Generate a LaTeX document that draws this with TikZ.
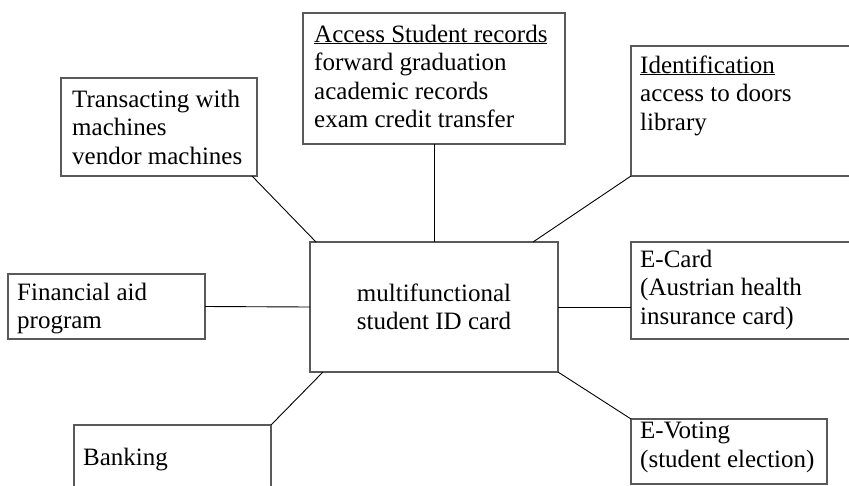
\documentclass[tikz,border=0pt]{standalone}
\usepackage{fontspec}
\setmainfont{Liberation Serif}
\begin{document}
\begin{tikzpicture}[x=1pt,y=-1pt,
  boxst/.style={draw=black!65, line width=1.1pt, rectangle, inner sep=0pt, outer sep=0pt, anchor=north west},
  lbl/.style={anchor=base west, inner sep=0pt, align=left, font=\fontsize{25}{28.5}\selectfont},
  conn/.style={draw=black, line width=0.9pt}]
\useasboundingbox (0,0) rectangle (849,485);
\clip (0,0) rectangle (849,485);
\fill[white] (0,0) rectangle (849,485);
% boxes
\node[boxst, minimum width=262, minimum height=131] (acc) at (303,13) {};
\node[boxst, minimum width=196, minimum height=98] (trans) at (61,78) {};
\node[boxst, minimum width=229, minimum height=130] (ident) at (631,46) {};
\node[boxst, minimum width=229, minimum height=97] (ecard) at (631,242) {};
\node[boxst, minimum width=197, minimum height=65] (fin) at (8,274) {};
\node[boxst, minimum width=248, minimum height=130] (card) at (310,242) {};
\node[boxst, minimum width=197, minimum height=75] (bank) at (74,425) {};
\node[boxst, minimum width=196, minimum height=65] (evote) at (631,419) {};
% texts (anchored at the baseline of the last line)
\node[lbl] (accT) at (314,127.5) {\underline{Access Student records}\\forward graduation\\academic records\\exam credit transfer};
\node[lbl] (transT) at (72,164) {Transacting with\\machines\\vendor machines};
\node[lbl] (identT) at (640,130) {\underline{Identification}\\access to doors\\library};
\node[lbl] (ecardT) at (640,324) {E-Card\\(Austrian health\\insurance card)};
\node[lbl] (finT) at (17,328.5) {Financial aid\\program};
\node[lbl, anchor=center, align=center] (cardT) at (card.center) {multifunctional\\student ID card};
\node[lbl] (bankT) at (83,465) {Banking};
\node[lbl] (evoteT) at (640,467) {E-Voting\\(student election)};
% connectors
\draw[conn] (acc.south) -- (card.north);
\draw[conn] (fin.east) -- (card.west);
\draw[conn] (card.east) -- (card.east -| ecard.west);
\draw[conn] ([xshift=-5]trans.south east) -- ([xshift=6]card.north west);
\draw[conn] (ident.south west) -- ([xshift=-25]card.north east);
\draw[conn] (card.south east) -- (evote.north west);
\draw[conn] ([xshift=13]card.south west) -- (bank.north east);
\end{tikzpicture}
\end{document}
